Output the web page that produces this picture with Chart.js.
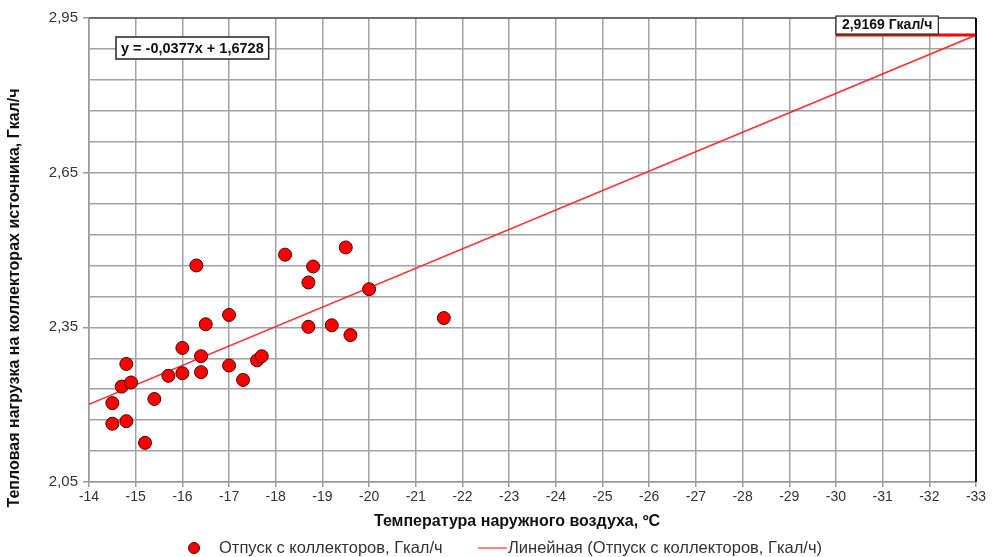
<!DOCTYPE html>
<html lang="ru">
<head>
<meta charset="utf-8">
<title>Тепловая нагрузка</title>
<script src="https://cdn.jsdelivr.net/npm/chart.js@4.4.1/dist/chart.umd.min.js"></script>
<style>
  html, body { margin: 0; padding: 0; background: #fff; }
  #wrap { width: 992px; height: 557px; position: relative; }
</style>
</head>
<body>
<div id="wrap"><canvas id="chart" width="992" height="557"></canvas></div>
<script>
// Температура наружного воздуха, °C
const tempValues = [
  -14.5, -14.5, -14.8, -14.7, -14.9, -14.8, -15.4, -15.2, -15.7, -16.0,
  -16.0, -16.3, -16.4, -16.4, -16.5, -17.0, -17.0, -17.3, -17.6, -17.7,
  -18.2, -18.7, -18.8, -18.7, -19.2, -19.5, -19.6, -20.0, -21.6
];
// Отпуск с коллекторов, Гкал/ч
const loadValues = [
  2.203, 2.163, 2.168, 2.235, 2.243, 2.279, 2.211, 2.126, 2.256, 2.261,
  2.310, 2.470, 2.294, 2.263, 2.356, 2.374, 2.276, 2.248, 2.286, 2.294,
  2.491, 2.437, 2.468, 2.351, 2.354, 2.505, 2.335, 2.424, 2.368
];
// линейный тренд y = -0,0377x + 1,6728
const trendSlope = -0.0377;
const trendIntercept = 1.6728;
const trendRange = [-14, -33];
const designTemp = -33;
const designMarkFrom = -30;
const yLabelTicks = [2.05, 2.35, 2.65, 2.95];

const trendY = x => trendSlope * x + trendIntercept;
const designLoad = trendY(designTemp);
const fmt = (v, d) => v.toFixed(d).replace('.', ',');

const FONT = '"Liberation Sans", Arial, sans-serif';
const isLabelTick = v => yLabelTicks.some(t => Math.abs(t - v) < 1e-6);

// подписи, легенда и рамка области построения
const decor = {
  id: 'decor',
  afterDatasetsDraw(chart) {
    const { ctx, chartArea: a, scales } = chart;
    ctx.save();
    // рамка: верх и правая сторона темнее
    ctx.strokeStyle = '#555';
    ctx.lineWidth = 1.5;
    ctx.beginPath();
    ctx.moveTo(a.left, a.top); ctx.lineTo(a.right, a.top);
    ctx.stroke();
    ctx.strokeStyle = '#111';
    ctx.lineWidth = 2;
    ctx.beginPath();
    ctx.moveTo(a.right, a.top); ctx.lineTo(a.right, a.bottom);
    ctx.stroke();

    // уравнение тренда
    const eq = 'y = ' + fmt(trendSlope, 4) + 'x + ' + fmt(trendIntercept, 4);
    ctx.font = 'bold 14.5px ' + FONT;
    const ew = ctx.measureText(eq).width + 10;
    const ex = a.left + 27, ey = a.top + 19;
    ctx.fillStyle = '#fff';
    ctx.fillRect(ex, ey, ew, 22);
    ctx.strokeStyle = '#222';
    ctx.lineWidth = 1.5;
    ctx.strokeRect(ex, ey, ew, 22);
    ctx.fillStyle = '#111';
    ctx.textBaseline = 'middle';
    ctx.textAlign = 'left';
    ctx.fillText(eq, ex + 5, ey + 11.5);

    // расчётная нагрузка
    const dl = fmt(designLoad, 4) + ' Гкал/ч';
    ctx.font = 'bold 14px ' + FONT;
    const dx = scales.x.getPixelForValue(designMarkFrom);
    const dy = scales.y.getPixelForValue(designLoad);
    const dw = ctx.measureText(dl).width + 12;
    ctx.fillStyle = '#fff';
    ctx.fillRect(dx, dy - 19, dw, 18);
    ctx.strokeStyle = '#222';
    ctx.lineWidth = 1.2;
    ctx.strokeRect(dx, dy - 19, dw, 18);
    ctx.fillStyle = '#111';
    ctx.fillText(dl, dx + 6, dy - 9.5);

    // подписи осей
    ctx.font = 'bold 16px ' + FONT;
    ctx.textAlign = 'center';
    ctx.fillStyle = '#111';
    ctx.fillText('Температура наружного воздуха, ºС', 517, 522);
    ctx.save();
    ctx.translate(15, 298);
    ctx.rotate(-Math.PI / 2);
    ctx.fillText('Тепловая нагрузка на коллекторах источника, Гкал/ч', 0, 0);
    ctx.restore();

    // легенда
    ctx.font = '16.5px ' + FONT;
    ctx.textAlign = 'left';
    ctx.fillStyle = '#ff0000';
    ctx.strokeStyle = '#4a0000';
    ctx.lineWidth = 1;
    ctx.beginPath();
    ctx.arc(194, 548, 5.5, 0, Math.PI * 2);
    ctx.fill(); ctx.stroke();
    ctx.fillStyle = '#333';
    ctx.fillText(chart.data.datasets[0].label, 219, 548);
    ctx.strokeStyle = 'rgba(255,60,60,0.85)';
    ctx.lineWidth = 1.5;
    ctx.beginPath();
    ctx.moveTo(478, 548); ctx.lineTo(507, 548);
    ctx.stroke();
    ctx.fillText(chart.data.datasets[1].label, 508, 548);
    ctx.restore();
  }
};

new Chart(document.getElementById('chart'), {
  type: 'scatter',
  data: {
    datasets: [
      {
        label: 'Отпуск с коллекторов, Гкал/ч',
        data: tempValues.map((t, i) => ({ x: t, y: loadValues[i] })),
        backgroundColor: '#ff0000',
        borderColor: '#4a0000',
        borderWidth: 1,
        pointRadius: 6.5,
        order: 1
      },
      {
        label: 'Линейная (Отпуск с коллекторов, Гкал/ч)',
        type: 'line',
        data: trendRange.map(x => ({ x: x, y: trendY(x) })),
        borderColor: 'rgba(255,30,30,0.9)',
        borderWidth: 1.5,
        pointRadius: 0,
        fill: false,
        order: 2
      },
      {
        label: 'design',
        type: 'line',
        data: [designMarkFrom, designTemp].map(x => ({ x: x, y: designLoad })),
        borderColor: '#ff0000',
        borderWidth: 3,
        pointRadius: 0,
        fill: false,
        order: 0
      }
    ]
  },
  options: {
    responsive: false,
    animation: false,
    layout: { padding: { top: 18, right: 16, left: 0, bottom: 0 } },
    plugins: { legend: { display: false }, tooltip: { enabled: false } },
    scales: {
      x: {
        type: 'linear',
        reverse: true,
        min: -33,
        max: -14,
        afterFit: s => { s.height = 75; },
        ticks: {
          stepSize: 1,
          color: '#333',
          font: { family: FONT, size: 14 },
          padding: 2,
          maxRotation: 0
        },
        grid: { color: '#a2a2a2', lineWidth: 1.5, tickLength: 5, tickColor: '#999' },
        border: { color: '#999', width: 1.5 }
      },
      y: {
        min: 2.05,
        max: 2.95,
        afterFit: s => { s.width = 89; },
        ticks: {
          stepSize: 0.06,
          color: '#333',
          font: { family: FONT, size: 15 },
          padding: 5,
          callback: v => isLabelTick(v) ? fmt(v, 2) : ''
        },
        grid: {
          color: '#a2a2a2',
          lineWidth: 1.5,
          tickLength: 6,
          tickColor: c => (c.tick && isLabelTick(c.tick.value)) ? '#999' : 'rgba(0,0,0,0)'
        },
        border: { color: '#999', width: 1.5 }
      }
    }
  },
  plugins: [decor]
});
</script>
</body>
</html>
